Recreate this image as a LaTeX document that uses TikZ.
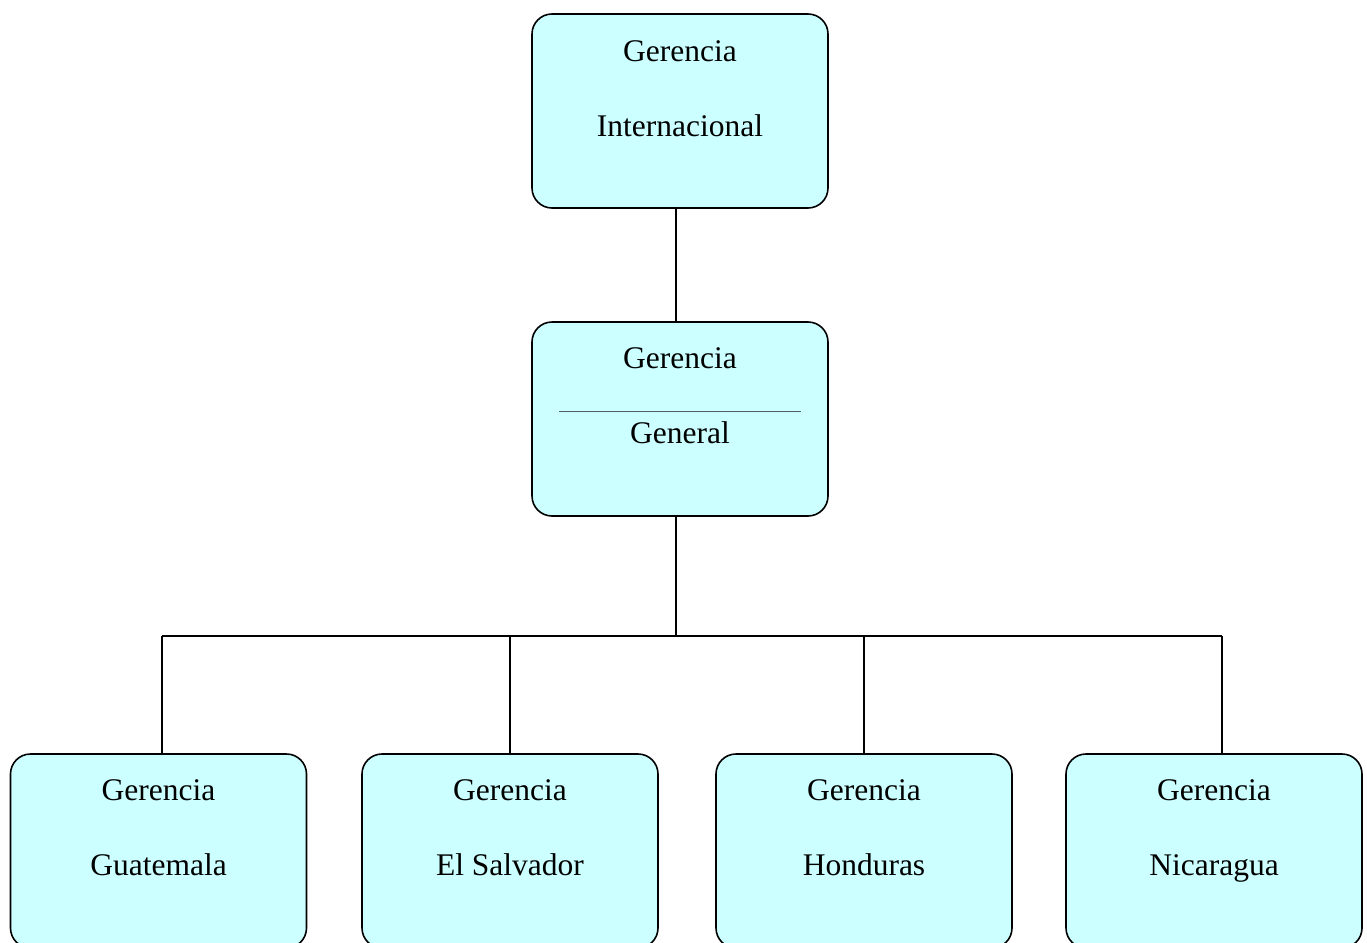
\documentclass[tikz,border=0pt]{standalone}
\usepackage{fontspec}
\setmainfont{Liberation Serif}
\definecolor{boxfill}{HTML}{CCFFFF}
\definecolor{rulegray}{RGB}{80,96,96}
\begin{document}
\begin{tikzpicture}[x=1pt,y=-1pt,
  box/.style={draw, line width=1.6pt, rounded corners=20pt, fill=boxfill,
              minimum width=296pt, minimum height=194pt, inner sep=0pt},
  lbl/.style={anchor=base, inner sep=0pt, font=\fontsize{31.5}{36}\selectfont},
  link/.style={line width=1.6pt}]
  \useasboundingbox (0,0) rectangle (1367,942);

  % boxes
  \node[box] (top) at (680,111) {};
  \node[box] (mid) at (680,419) {};
  \node[box] (gua) at (158.5,851) {};
  \node[box] (sal) at (510,851) {};
  \node[box] (hon) at (864,851) {};
  \node[box] (nic) at (1214,851) {};

  % labels
  \node[lbl] (t1) at (680,61) {Gerencia};
  \node[lbl] (t2) at (680,136) {Internacional};
  \node[lbl] (m1) at (680,368) {Gerencia};
  \node[lbl] (m2) at (680,443) {General};
  \draw[rulegray, line width=1.3pt] (559,411.5) -- (801,411.5);
  \node[lbl] (g1) at (158.5,800) {Gerencia};
  \node[lbl] (g2) at (158.5,875) {Guatemala};
  \node[lbl] (s1) at (510,800) {Gerencia};
  \node[lbl] (s2) at (510,875) {El Salvador};
  \node[lbl] (h1) at (864,800) {Gerencia};
  \node[lbl] (h2) at (864,875) {Honduras};
  \node[lbl] (n1) at (1214,800) {Gerencia};
  \node[lbl] (n2) at (1214,875) {Nicaragua};

  % connectors
  \coordinate (j) at (676,636);
  \coordinate (jg) at (162,636);
  \coordinate (js) at (510,636);
  \coordinate (jh) at (864,636);
  \coordinate (jn) at (1222,636);
  \draw[link] (top.south -| j) -- (mid.north -| j);
  \draw[link] (mid.south -| j) -- (j);
  \draw[link] (jg) -- (jn);
  \draw[link] (jg) -- (jg |- gua.north);
  \draw[link] (js) -- (js |- sal.north);
  \draw[link] (jh) -- (jh |- hon.north);
  \draw[link] (jn) -- (jn |- nic.north);
\end{tikzpicture}
\end{document}
